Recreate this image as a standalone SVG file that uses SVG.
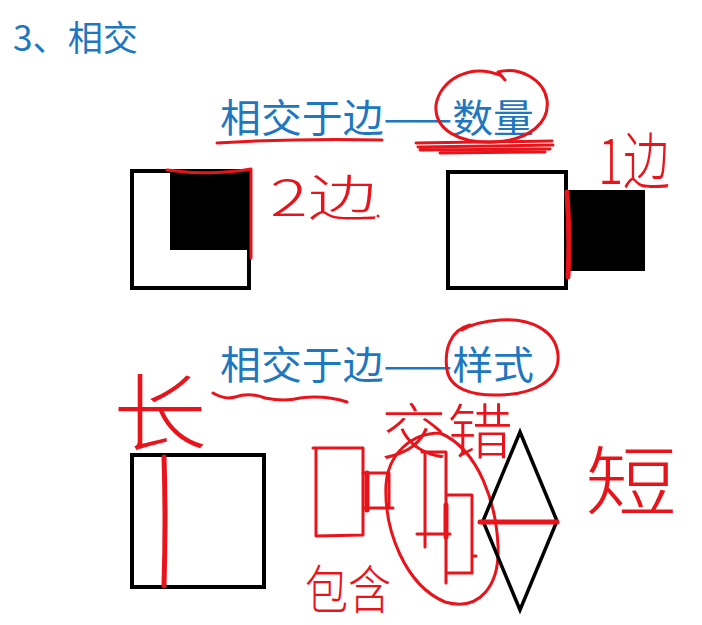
<svg xmlns="http://www.w3.org/2000/svg" width="702" height="625" viewBox="0 0 702 625">
<style>
.blue{fill:#1f77bf;font-family:"Noto Sans CJK SC","Noto Sans",sans-serif}
.hand{fill:#e8141b;font-family:"Noto Sans CJK SC","Noto Sans",sans-serif;font-weight:300}
.box{fill:#fff;stroke:#000;stroke-width:4}
.blk{fill:#000}
.red{fill:none;stroke:#e8141b;stroke-width:3;stroke-linecap:round;stroke-linejoin:round}
.redb{fill:none;stroke:#e8141b;stroke-width:5;stroke-linecap:round}
</style>
<rect width="702" height="625" fill="#fff"/>
<g id="title"><text class="blue" x="13" y="51" font-size="35" textLength="125" lengthAdjust="spacingAndGlyphs">3、相交</text></g>
<g id="heading1">
<text class="blue" x="220" y="132" font-size="39" textLength="314" lengthAdjust="spacingAndGlyphs">相交于边——数量</text>
<path class="red" d="M217,143 Q300,138 382,140"/>
<path class="red" d="M502,76 C470,62 440,80 436,105 C434,130 460,144 495,142 C530,140 550,122 547,100 C544,80 520,66 498,72 L505,80"/>
<path class="red" d="M416,143 L552,141 M418,147 L553,145 M420,150 L550,149 M440,153 L545,152"/>
</g>
<g id="pair1">
<rect class="box" x="132" y="171" width="117" height="117"/>
<rect class="blk" x="170" y="169" width="81" height="81"/>
<path class="red" d="M167,170 Q210,176 251,169 L251,258"/>
<text class="hand" x="270" y="216" font-size="50" textLength="108" lengthAdjust="spacingAndGlyphs">2边</text>
<circle cx="378" cy="216" r="1.5" fill="#e8141b"/>
</g>
<g id="pair2">
<rect class="box" x="448" y="172" width="118" height="116"/>
<rect class="blk" x="567" y="190" width="78" height="81"/>
<path class="redb" d="M567,192 Q570,235 568,277"/>
<text class="hand" x="598" y="184" font-size="62" textLength="72" lengthAdjust="spacingAndGlyphs">1边</text>
</g>
<g id="heading2">
<text class="blue" x="220" y="379" font-size="39" textLength="314" lengthAdjust="spacingAndGlyphs">相交于边——样式</text>
<path class="red" d="M213,393 Q225,400 235,397 Q250,392 265,398 Q285,402 300,398 Q325,395 347,402"/>
<path class="red" d="M470,325 C450,330 444,350 447,370 C450,388 470,396 500,395 C535,394 560,380 558,355 C556,330 530,318 500,320 C485,321 472,324 462,330"/>
</g>
<g id="pair3">
<rect class="box" x="132" y="455" width="132" height="132"/>
<path class="redb" d="M164,457 Q166,520 164,586"/>
<text class="hand" x="113" y="444" font-size="84" textLength="94" lengthAdjust="spacingAndGlyphs">长</text>
</g>
<g id="pair4">
<path class="red" d="M313,448 L363,448 L363,535 L316,536 L316,448"/>
<path class="red" d="M363,473 L389,473 L389,508 M365,508 L393,508"/>
<path class="redb" d="M367,473 L367,510"/>
<text class="hand" x="305" y="609" font-size="52" textLength="86" lengthAdjust="spacingAndGlyphs">包含</text>
</g>
<g id="pair5">
<path class="red" d="M440,433 C410,433 388,455 386,485 C384,530 405,585 445,602 C480,612 500,585 498,545 C496,505 480,450 440,433"/>
<path class="red" d="M422,452 L446,452 M425,452 L425,547 M446,452 L446,583 M417,534 L450,534"/>
<path class="redb" d="M446,505 L446,537"/>
<path class="red" d="M447,495 L472,495 L472,573 L447,573 M472,556 L476,556"/>
<polygon points="520,432 557,521 520,610 483,521" fill="none" stroke="#000" stroke-width="3.5" stroke-linejoin="miter"/>
<path class="redb" d="M480,522 L557,522"/>
<text class="hand" x="381" y="454" font-size="60" textLength="132" lengthAdjust="spacingAndGlyphs">交错</text>
<text class="hand" x="585" y="510" font-size="76" textLength="92" lengthAdjust="spacingAndGlyphs">短</text>
</g>
</svg>
